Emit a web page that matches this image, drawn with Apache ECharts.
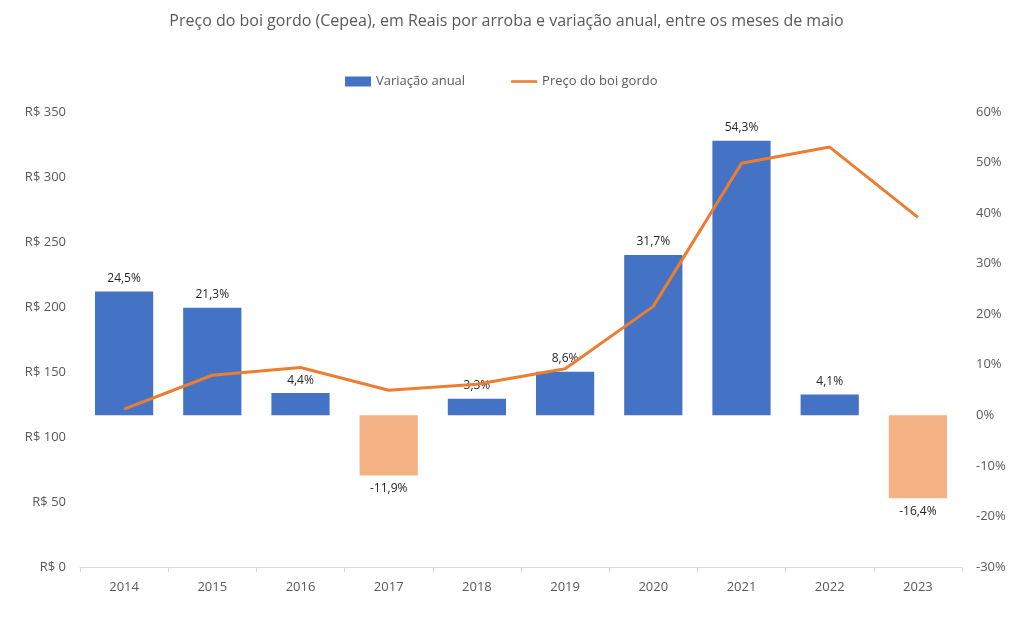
<!DOCTYPE html>
<html>
<head>
<meta charset="utf-8">
<script src="https://cdn.jsdelivr.net/npm/echarts@6/dist/echarts.min.js"></script>
<style>html,body{margin:0;padding:0;background:#fff}#c{width:1013px;height:630px}</style>
</head>
<body>
<div id="c"></div>
<script>
const categories = ['2014','2015','2016','2017','2018','2019','2020','2021','2022','2023'];
const variacao = [24.5, 21.3, 4.4, -11.9, 3.3, 8.6, 31.7, 54.3, 4.1, -16.4];
const preco = [121.5, 147.5, 153.5, 136, 140.5, 152.5, 200.5, 310.5, 323, 269];
const leftTicks = [0, 50, 100, 150, 200, 250, 300, 350];
const rightTicks = [-30, -20, -10, 0, 10, 20, 30, 40, 50, 60];

const fontFam = '"Open Sans", "Noto Sans", sans-serif';
const chart = echarts.init(document.getElementById('c'), null, {renderer: 'canvas'});
chart.setOption({
  animation: false,
  title: {
    text: 'Preço do boi gordo (Cepea), em Reais por arroba e variação anual, entre os meses de maio',
    left: 'center', top: 8,
    textStyle: {fontFamily: fontFam, fontSize: 16, fontWeight: 'normal', color: '#595959'}
  },
  legend: {
    top: 70, left: 340, itemGap: 46, itemWidth: 26, itemHeight: 10,
    textStyle: {fontFamily: fontFam, fontSize: 13, color: '#595959'},
    data: [
      {name: 'Variação anual', icon: 'rect'},
      {name: 'Preço do boi gordo', icon: 'path://M0,0L30,0L30,3L0,3Z', itemStyle: {color: '#ED7D31'}}
    ]
  },
  grid: {left: 80, right: 51, top: 112, bottom: 63},
  xAxis: {
    type: 'category', data: categories, boundaryGap: true,
    axisLine: {lineStyle: {color: '#d9d9d9'}},
    axisTick: {show: true, length: 5, lineStyle: {color: '#d9d9d9'}},
    axisLabel: {fontFamily: fontFam, fontSize: 13, color: '#595959', margin: 14}
  },
  yAxis: [
    {
      type: 'value', min: leftTicks[0], max: leftTicks[leftTicks.length-1], interval: 50,
      splitLine: {show: false}, axisLine: {show: false}, axisTick: {show: false},
      axisLabel: {fontFamily: fontFam, fontSize: 13, color: '#595959', margin: 14,
        formatter: v => 'R$ ' + v}
    },
    {
      type: 'value', min: rightTicks[0], max: rightTicks[rightTicks.length-1], interval: 10,
      splitLine: {show: false}, axisLine: {show: false}, axisTick: {show: false},
      axisLabel: {fontFamily: fontFam, fontSize: 13, color: '#595959', margin: 14,
        formatter: v => v + '%'}
    }
  ],
  series: [
    {
      name: 'Variação anual', type: 'bar', yAxisIndex: 1, barWidth: '66%',
      itemStyle: {color: '#4472C4'},
      data: variacao.map(v => ({
        value: v,
        itemStyle: {color: v < 0 ? '#F4B183' : '#4472C4'},
        label: {position: v < 0 ? 'bottom' : 'top'}
      })),
      label: {
        show: true, distance: 7, fontFamily: fontFam, fontSize: 12, color: '#262626',
        formatter: p => String(p.value.toFixed(1)).replace('.', ',') + '%'
      },
      z: 2
    },
    {
      name: 'Preço do boi gordo', type: 'line', yAxisIndex: 0, data: preco,
      symbol: 'none', lineStyle: {color: '#ED7D31', width: 3}, itemStyle: {color: '#ED7D31'},
      z: 3
    }
  ]
});
</script>
</body>
</html>
